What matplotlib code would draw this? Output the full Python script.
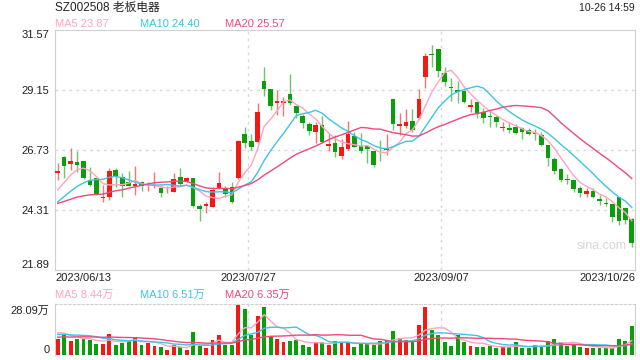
import numpy as np
import pandas as pd
import matplotlib
matplotlib.use("Agg")
import matplotlib.pyplot as plt

plt.rcParams['font.family'] = ['Liberation Sans', 'Noto Sans CJK SC', 'DejaVu Sans']

# daily candles, 2023/06/13 .. 2023/10/26
opens = [25.82, 26.46, 26.18, 26.23, 26.29, 25.51, 25.60, 24.80, 24.85, 25.92,
         25.63, 25.45, 25.29, 25.45, 25.30, 25.22, 25.20, 25.02, 25.05, 25.64,
         25.49, 25.60, 24.46, 24.48, 24.44, 25.16, 25.14, 25.22, 25.59, 27.36,
         27.09, 27.05, 29.51, 29.19, 28.61, 28.64, 28.99, 28.50, 28.10, 27.78,
         27.47, 27.74, 26.90, 27.00, 26.49, 26.78, 27.29, 26.89, 26.89, 26.69,
         26.79, 26.73, 28.77, 27.71, 27.71, 27.90, 28.03, 29.69, 30.62, 30.80,
         29.82, 29.28, 29.15, 29.12, 28.48, 28.68, 28.27, 28.09, 28.06, 27.63,
         27.60, 27.65, 27.60, 27.54, 27.42, 27.33, 26.93, 26.35, 25.95, 25.57,
         25.52, 25.18, 24.95, 25.09, 24.74, 24.60, 24.55, 24.85, 24.40, 23.95]
highs = [26.22, 26.48, 26.80, 26.70, 26.30, 26.06, 25.62, 25.32, 26.01, 25.99,
         25.79, 25.90, 26.09, 25.47, 25.45, 25.83, 25.32, 25.26, 25.79, 25.99,
         25.66, 25.60, 24.55, 24.62, 25.25, 25.84, 25.28, 25.43, 27.13, 27.65,
         27.36, 28.61, 30.07, 29.19, 29.15, 28.88, 29.79, 28.50, 28.18, 27.87,
         27.86, 28.10, 27.43, 27.32, 27.16, 27.91, 27.47, 27.40, 26.90, 26.70,
         27.13, 27.37, 28.77, 28.21, 28.38, 28.38, 29.19, 30.63, 30.97, 30.80,
         30.09, 29.62, 29.53, 29.15, 28.77, 28.68, 28.44, 28.34, 28.14, 27.85,
         27.85, 27.78, 27.67, 27.62, 27.56, 27.47, 26.95, 26.46, 26.00, 25.76,
         25.52, 25.28, 25.18, 25.18, 24.91, 24.78, 24.55, 24.85, 24.40, 23.97]
lows = [25.52, 25.61, 25.92, 25.85, 25.55, 25.28, 24.90, 24.64, 24.71, 25.22,
        24.85, 25.28, 24.92, 25.09, 25.07, 25.20, 24.82, 25.00, 25.02, 25.28,
        25.45, 24.42, 23.88, 24.17, 24.42, 25.14, 24.85, 24.60, 25.55, 26.82,
        26.73, 27.00, 28.92, 28.34, 28.14, 28.11, 28.54, 28.01, 27.60, 27.33,
        27.00, 27.00, 26.70, 26.46, 26.35, 26.73, 26.84, 26.60, 26.22, 26.06,
        26.30, 26.53, 27.54, 27.33, 27.60, 27.47, 28.00, 29.22, 30.09, 29.66,
        29.32, 28.72, 28.61, 28.61, 28.27, 28.03, 27.81, 27.67, 27.67, 27.50,
        27.40, 27.37, 27.16, 27.33, 27.13, 26.90, 26.10, 25.76, 25.45, 25.36,
        25.05, 24.85, 24.85, 24.80, 24.51, 24.47, 23.84, 23.70, 23.74, 22.83]
closes = [25.87, 26.10, 26.27, 26.14, 25.61, 25.32, 24.95, 24.84, 25.88, 25.68,
          25.29, 25.28, 25.36, 25.29, 25.33, 25.25, 25.00, 25.05, 25.56, 25.37,
          25.60, 24.48, 24.35, 24.55, 25.10, 25.39, 24.95, 24.64, 27.09, 27.02,
          26.86, 28.26, 29.19, 28.52, 28.71, 28.71, 28.61, 28.24, 27.83, 27.51,
          27.74, 27.06, 26.97, 26.66, 26.86, 27.37, 26.86, 26.70, 26.76, 26.12,
          26.76, 26.78, 27.77, 27.77, 27.87, 27.54, 28.79, 30.53, 30.58, 29.93,
          29.48, 29.22, 29.08, 28.68, 28.54, 28.21, 28.01, 28.05, 27.87, 27.66,
          27.54, 27.40, 27.47, 27.36, 27.39, 26.93, 26.39, 25.89, 25.52, 25.54,
          25.14, 25.01, 25.09, 24.85, 24.67, 24.57, 24.04, 23.88, 23.90, 22.99]
# volume, 万
volumes = [9.2, 11.1, 8.2, 9.2, 9.2, 8.6, 6.3, 6.3, 12.0, 5.9,
           6.7, 8.6, 10.1, 5.9, 6.7, 5.2, 4.4, 2.9, 5.9, 4.4,
           2.9, 12.8, 5.3, 4.0, 8.6, 11.6, 5.9, 5.9, 28.09, 26.0,
           11.1, 22.0, 27.3, 10.9, 8.8, 7.3, 8.2, 8.6, 5.9, 4.8,
           7.6, 7.6, 5.9, 8.2, 7.3, 7.3, 4.4, 6.7, 6.3, 5.9,
           8.2, 8.6, 13.4, 9.7, 8.6, 8.2, 16.8, 27.3, 13.9, 11.1,
           7.3, 5.3, 11.1, 7.3, 5.3, 4.8, 4.8, 5.3, 3.8, 4.4,
           4.4, 7.3, 3.8, 3.8, 5.9, 4.4, 8.2, 8.8, 7.6, 5.3,
           6.3, 4.8, 3.8, 4.0, 4.0, 4.0, 3.8, 8.8, 8.2, 16.2]

# estimated sessions before 06/13 (needed for the moving averages)
prior_closes = [24.6, 24.5, 24.4, 24.6, 24.5, 24.7, 24.5, 24.4, 24.5, 24.5,
                24.0, 24.1, 24.2, 24.2, 24.3, 24.6, 24.8, 25.0, 25.33]
prior_volumes = [8.0, 9.5, 8.2, 7.8, 9.0, 8.5, 8.8, 8.4, 9.2, 8.6,
                 10.0, 11.5, 10.2, 10.8, 10.5, 12.0, 14.5, 13.8, 13.5]

date_idx = [0, 30, 60, 89]
date_labels = ["2023/06/13", "2023/07/27", "2023/09/07", "2023/10/26"]
price_ticks = [21.89, 24.31, 26.73, 29.15, 31.57]
vol_max = 28.09

title = "SZ002508 老板电器"
timestamp = "10-26 14:59"
ma_text = ["MA5 23.87", "MA10 24.40", "MA20 25.57"]
vol_ma_text = ["MA5 8.44万", "MA10 6.51万", "MA20 6.35万"]

RED = "#f21a12"
GREEN = "#0a9e0a"
MA_COLORS = ["#ffa3c2", "#3ec4e2", "#ee4a7c"]
GRID = "#d8d8d8"
FS = 8

n = len(closes)
x = np.arange(n)
o = np.array(opens); c = np.array(closes); h = np.array(highs); l = np.array(lows)
up = c >= o
colors = np.where(up, RED, GREEN)

cs = pd.Series(prior_closes + closes)
vs = pd.Series(prior_volumes + volumes)
pm = [cs.rolling(k).mean().values[-n:] for k in (5, 10, 20)]
vm = [vs.rolling(k).mean().values[-n:] for k in (5, 10, 20)]

fig = plt.figure(figsize=(6.4, 3.6), dpi=100)
ax = fig.add_axes([55 / 640, 1 - 270 / 360, 580 / 640, 240 / 360])
axv = fig.add_axes([55 / 640, 1 - 355 / 360, 580 / 640, 51 / 360])

# price panel
ax.vlines(x, l, h, colors=colors, linewidth=1, alpha=0.6, zorder=2)
body_h = np.maximum(np.abs(c - o), 0.03)
ax.bar(x, body_h, bottom=np.minimum(o, c), width=0.72, color=colors,
       linewidth=0, zorder=3)
for m, col in zip(pm, MA_COLORS):
    ax.plot(x, m, color=col, linewidth=1, zorder=4)

xl = (-0.42, 89.5)
ax.set_xlim(*xl)
ax.set_ylim(price_ticks[0], price_ticks[-1])
for t in price_ticks[1:-1]:
    ax.axhline(t, color=GRID, linestyle=(0, (2, 3)), linewidth=1, zorder=1)
for i in date_idx[1:3]:
    ax.axvline(i - 0.5, color=GRID, linestyle=(0, (2, 3)), linewidth=1, zorder=1)
ax.set_yticks(price_ticks)
ax.set_yticklabels([f"{t:.2f}" for t in price_ticks], fontsize=FS)
labs = ax.get_yticklabels()
labs[0].set_va("bottom")
labs[-1].set_va("top")
ax.tick_params(axis="y", length=0, pad=4, colors="#222222")
ax.set_xticks([])
for sp in ax.spines.values():
    sp.set_color("#d0d0d0")

aligns = ["left", "center", "center", "right"]
for i, lab, ha in zip(date_idx, date_labels, aligns):
    xp = {"left": xl[0], "right": xl[1]}.get(ha, i - 0.5)
    ax.text(xp, -0.012, lab, transform=ax.get_xaxis_transform(), ha=ha, va="top",
            fontsize=FS, color="#222222")

ax.text(0.985, 0.1, "sina.com", transform=ax.transAxes, ha="right", va="center",
        fontsize=9, color="#d6d6d6")

# volume panel
axv.bar(x, volumes, width=0.6, color=colors, linewidth=0, zorder=3)
for m, col in zip(vm, MA_COLORS):
    axv.plot(x, m, color=col, linewidth=1, zorder=4)
axv.set_xlim(*xl)
axv.set_ylim(0, vol_max * 1.03)
for i in date_idx[1:3]:
    axv.axvline(i - 0.5, color=GRID, linestyle=(0, (2, 3)), linewidth=1, zorder=1)
axv.set_xticks([])
axv.set_yticks([0, vol_max])
axv.set_yticklabels(["0", f"{vol_max:.2f}万"], fontsize=FS)
vl = axv.get_yticklabels()
vl[0].set_va("bottom")
vl[1].set_va("top")
axv.tick_params(axis="y", length=0, pad=4, colors="#222222")
for sp in axv.spines.values():
    sp.set_color("#d0d0d0")
axv.spines["top"].set_linestyle((0, (2, 2)))
axv.spines["bottom"].set_visible(False)

# header texts
fig.text(55 / 640, 1 - 8 / 360, title, ha="left", va="center", fontsize=8.5,
         color="#222222")
fig.text(635 / 640, 1 - 8 / 360, timestamp, ha="right", va="center", fontsize=7.5,
         color="#222222")
for k, (txt, vtxt, col) in enumerate(zip(ma_text, vol_ma_text, MA_COLORS)):
    xp = (55 + 85 * k) / 640
    fig.text(xp, 1 - 24 / 360, txt, ha="left", va="center", fontsize=FS, color=col)
    fig.text(xp, 1 - 295 / 360, vtxt, ha="left", va="center", fontsize=FS, color=col)

fig.savefig("out.png", dpi=100)
